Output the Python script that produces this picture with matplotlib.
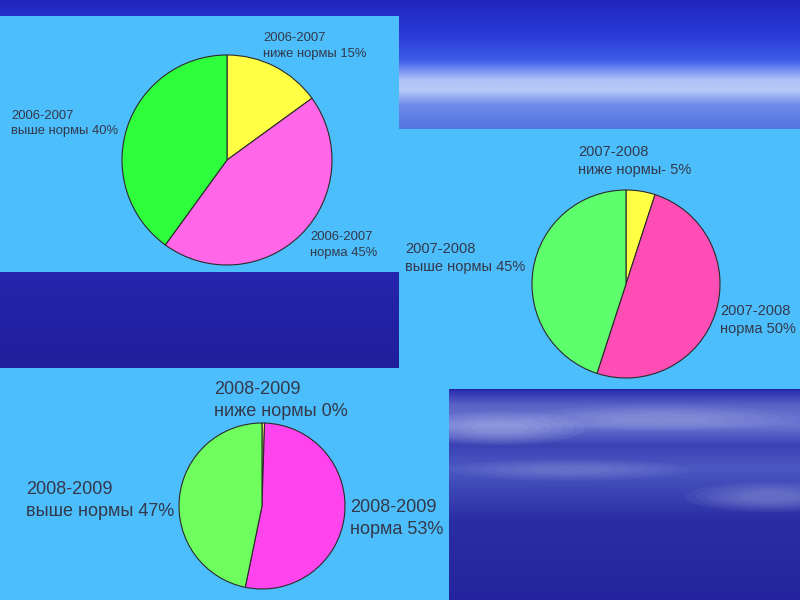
import numpy as np
import matplotlib.pyplot as plt
from matplotlib.colors import LinearSegmentedColormap
from matplotlib.patches import Rectangle, Ellipse

# --- data: share of pupils per category, clockwise from the top ---
categories = ['ниже нормы', 'норма', 'выше нормы']
years = ['2006-2007', '2007-2008', '2008-2009']
shares_2006 = [15, 45, 40]
shares_2007 = [5, 50, 45]
shares_2008 = [0.5, 53, 47]   # "0%" is still drawn as a hair-thin sliver
labels_2006 = ['ниже нормы 15%', 'норма 45%', 'выше нормы 40%']
labels_2007 = ['ниже нормы- 5%', 'норма 50%', 'выше нормы 45%']
labels_2008 = ['ниже нормы 0%', 'норма 53%', 'выше нормы 47%']

W, H = 800, 600
PANEL = '#4DBEFC'
TEXT = '#33384a'

plt.rcParams['font.family'] = ['Liberation Sans', 'DejaVu Sans']

fig = plt.figure(figsize=(8, 6), dpi=100)
fig.patch.set_facecolor('#2222A6')
ax = fig.add_axes([0, 0, 1, 1])


def Y(y):
    # pixel rows are counted from the top of the slide
    return H - y


def gradient(x0, x1, y0, y1, stops, z=0):
    pos = [(s - y0) / (y1 - y0) for s, _ in stops]
    cmap = LinearSegmentedColormap.from_list('g', list(zip(pos, [c for _, c in stops])))
    grad = np.linspace(0, 1, 256).reshape(-1, 1)
    return ax.imshow(grad, cmap=cmap, aspect='auto', extent=(x0, x1, Y(y1), Y(y0)),
                     origin='upper', zorder=z, interpolation='bilinear')


# sky strip along the top
gradient(0, W, 0, 130, [(0, '#2026BE'), (35, '#2A3AD8'), (60, '#3C5CE8'),
                        (80, '#AEC2F8'), (90, '#B8CAF8'), (105, '#6E8CEA'),
                        (130, '#5474E0')])
# dark band left middle
gradient(0, 400, 270, 370, [(270, '#2426AC'), (320, '#2222A4'), (370, '#20209C')])
# cloudy corner bottom right
gradient(449, W, 390, H, [(390, '#2A30B0'), (405, '#5A64C6'), (425, '#6A76D2'),
                          (445, '#3A42B4'), (468, '#4C58C2'), (490, '#3C46B6'),
                          (520, '#2A2EA4'), (600, '#24259E')])
corner = Rectangle((449, Y(H)), W - 449, H - 390, transform=ax.transData)
# soft streaks: stacked faint ellipses so the edges fade out
for ex, ey, ew, eh, a in [(500, 428, 170, 34, 0.07), (660, 418, 280, 26, 0.05),
                          (570, 470, 240, 22, 0.04), (770, 497, 170, 30, 0.06)]:
    for k in np.linspace(1.0, 0.35, 6):
        e = Ellipse((ex, Y(ey)), ew * k, eh * k, facecolor='#D0D8F8',
                    edgecolor='none', alpha=a, zorder=1)
        ax.add_patch(e)
        e.set_clip_path(corner)

# light blue panels
for x0, y0, x1, y1 in [(0, 16, 399, 272), (399, 129, W, 389), (0, 368, 449, H)]:
    ax.add_patch(Rectangle((x0, Y(y1)), x1 - x0, y1 - y0, facecolor=PANEL,
                           edgecolor='none', zorder=2))

pies = [
    (shares_2006, ['#FFFF44', '#FF66E8', '#2DFF3C'], (227, 160), 105),
    (shares_2007, ['#FFFF44', '#FF4DB6', '#5EFF6C'], (626, 284), 94),
    (shares_2008, ['#FFFF66', '#FF44EE', '#6EFF5E'], (262, 506), 83),
]
for values, colors, (cx, cy), r in pies:
    wedges, _ = ax.pie(values, colors=colors, startangle=90, counterclock=False,
                       center=(cx, Y(cy)), radius=r, frame=True,
                       wedgeprops=dict(edgecolor='#2b2b2b', linewidth=0.8))
    for w in wedges:
        w.set_zorder(3)

# labels: (year, text, left x, first line y, second line y, font size)
label_spots = [
    (years[0], labels_2006[0], 263, 38, 54, 9.4),
    (years[0], labels_2006[2], 11, 116, 131, 9.4),
    (years[0], labels_2006[1], 310, 237, 253, 9.4),
    (years[1], labels_2007[0], 578, 152, 170, 10.5),
    (years[1], labels_2007[2], 405, 249, 267, 10.5),
    (years[1], labels_2007[1], 720, 311, 329, 10.5),
    (years[2], labels_2008[0], 214, 389, 412, 13),
    (years[2], labels_2008[2], 26, 489, 512, 13),
    (years[2], labels_2008[1], 350, 508, 530, 13),
]
for year, txt, x, y1, y2, fs in label_spots:
    ax.text(x, Y(y1), year, fontsize=fs, color=TEXT, ha='left', va='center', zorder=5)
    ax.text(x, Y(y2), txt, fontsize=fs, color=TEXT, ha='left', va='center', zorder=5)

ax.set_xlim(0, W)
ax.set_ylim(0, H)
ax.set_aspect('auto')
ax.axis('off')

fig.savefig('out.png', dpi=100, facecolor=fig.get_facecolor())
